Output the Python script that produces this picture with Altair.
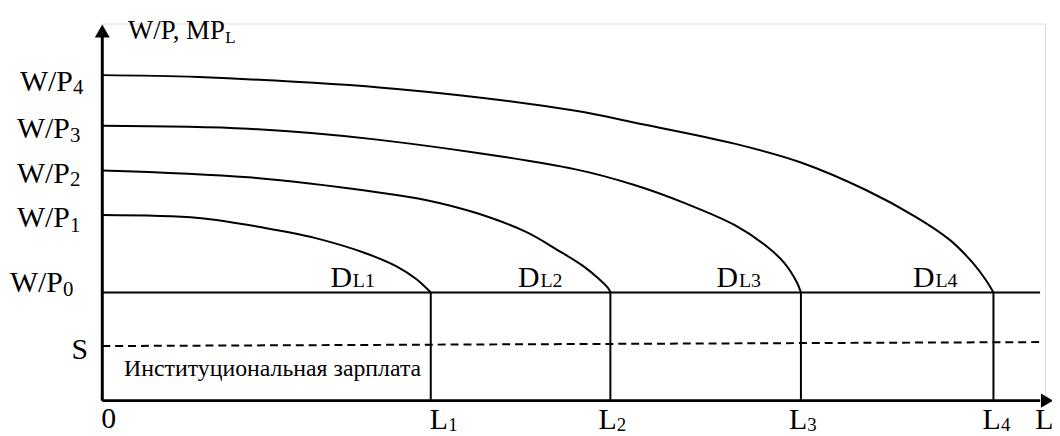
import altair as alt
import pandas as pd

# ---- data ----
L_pos = [3.31, 5.12, 7.04, 8.98]          # L1..L4 on the labour axis
WP0 = 10.9                                 # W/P0 level
WP_levels = [10.9, 18.7, 23.2, 27.7, 32.8] # W/P0..W/P4
S_line_x = [0.0, 9.45]
S_line_y = [5.5, 5.9]
WP0_end = 9.45

curve1_x = [0, 0.97, 1.64, 2.14, 2.64, 2.97, 3.17, 3.27, 3.31]
curve1_y = [18.7, 18.4, 17.4, 16.4, 14.9, 13.5, 12.2, 11.3, 10.9]
curve2_x = [0, 1.47, 2.77, 3.27, 3.77, 4.27, 4.60, 4.84, 5.00, 5.10, 5.12]
curve2_y = [23.2, 22.5, 21.0, 20.2, 18.9, 17.0, 15.1, 13.6, 12.3, 11.3, 10.9]
curve3_x = [0, 1.47, 2.77, 4.77, 5.37, 5.87, 6.37, 6.70, 6.87, 7.00, 7.04]
curve3_y = [27.7, 27.4, 26.3, 23.3, 21.7, 19.9, 17.7, 15.5, 13.9, 11.9, 10.9]
curve4_x = [0, 0.97, 2.97, 4.77, 5.37, 6.37, 7.04, 7.70, 8.20, 8.54, 8.77, 8.90, 8.98]
curve4_y = [32.8, 32.6, 31.4, 29.2, 28.0, 25.9, 24.0, 21.2, 18.5, 16.2, 13.9, 12.2, 10.9]

wp_label_x = [-0.93, -0.86, -0.86, -0.86, -0.83]
wp_label_y = [10.9, 17.5, 21.9, 26.5, 31.2]
wp_sub_y = [10.5, 17.0, 21.6, 26.1, 30.9]
wp_subs = ["0", "1", "2", "3", "4"]

d_label_x = [2.30, 4.19, 6.19, 8.17]
d_label_y = 11.5
d_subs = ["L1", "L2", "L3", "L4"]

l_label_x = [3.30, 5.00, 6.92, 8.87]
l_subs = ["1", "2", "3", "4"]

FONT = "Liberation Serif"
XS = alt.Scale(domain=[0, 9.5], nice=False, zero=False)
YS = alt.Scale(domain=[0, 38], nice=False, zero=False)


def X(f="x"):
    return alt.X(f"{f}:Q", scale=XS, axis=None)


def Y(f="y"):
    return alt.Y(f"{f}:Q", scale=YS, axis=None)


# curves
rows = []
for i, (cx, cy) in enumerate([(curve1_x, curve1_y), (curve2_x, curve2_y),
                              (curve3_x, curve3_y), (curve4_x, curve4_y)]):
    for k, (a, b) in enumerate(zip(cx, cy)):
        rows.append({"curve": f"D{i+1}", "x": a, "y": b, "o": k})
curves_df = pd.DataFrame(rows)

curves = alt.Chart(curves_df).mark_line(
    color="black", strokeWidth=2, interpolate="catmull-rom"
).encode(x=X(), y=Y(), detail="curve:N", order="o:Q")

# W/P0 horizontal line
wp0 = alt.Chart(pd.DataFrame({"x": [0], "x2": [WP0_end], "y": [WP0]})).mark_rule(
    color="black", strokeWidth=2
).encode(x=X(), x2="x2:Q", y=Y())

# S dashed line
s_line = alt.Chart(pd.DataFrame({"x": S_line_x, "y": S_line_y})).mark_line(
    color="black", strokeWidth=2, strokeDash=[8, 5]
).encode(x=X(), y=Y())

# vertical lines at L_i
vlines = alt.Chart(pd.DataFrame({"x": L_pos, "y": [0] * 4, "y2": [WP0] * 4})).mark_rule(
    color="black", strokeWidth=2
).encode(x=X(), y=Y(), y2="y2:Q")

# axes
y_axis = alt.Chart(pd.DataFrame({"x": [0], "y": [0], "y2": [37.0]})).mark_rule(
    color="black", strokeWidth=3
).encode(x=X(), y=Y(), y2="y2:Q")
x_axis = alt.Chart(pd.DataFrame({"x": [0], "x2": [9.45], "y": [0]})).mark_rule(
    color="black", strokeWidth=3
).encode(x=X(), x2="x2:Q", y=Y())
arrow_up = alt.Chart(pd.DataFrame({"x": [0], "y": [37.25]})).mark_point(
    shape="M-1,0.87L1,0.87L0,-0.87Z", filled=True, color="black", size=225, opacity=1
).encode(x=X(), y=Y())
arrow_right = alt.Chart(pd.DataFrame({"x": [9.52], "y": [0]})).mark_point(
    shape="M-0.87,-1L0.87,0L-0.87,1Z", filled=True, color="black", size=200, opacity=1
).encode(x=X(), y=Y())

# text labels
lab = []
lab.append({"x": 0.26, "y": 36.4, "t": "W/P, MP", "fs": 27})
lab.append({"x": 1.24, "y": 36.0, "t": "L", "fs": 17})
for bx, by, sy, s in zip(wp_label_x, wp_label_y, wp_sub_y, wp_subs):
    lab.append({"x": bx, "y": by, "t": "W/P", "fs": 30})
    lab.append({"x": bx + 0.535, "y": sy, "t": s, "fs": 21})
lab.append({"x": -0.31, "y": 4.2, "t": "S", "fs": 30})
lab.append({"x": -0.01, "y": -2.8, "t": "0", "fs": 30})
for lx, s in zip(l_label_x, l_subs):
    lab.append({"x": lx, "y": -2.85, "t": "L", "fs": 30})
    lab.append({"x": lx + 0.185, "y": -3.05, "t": s, "fs": 19})
lab.append({"x": 9.40, "y": -2.85, "t": "L", "fs": 30})
for dx_, s in zip(d_label_x, d_subs):
    lab.append({"x": dx_, "y": d_label_y, "t": "D", "fs": 30})
    lab.append({"x": dx_ + 0.225, "y": d_label_y, "t": s, "fs": 20})
lab.append({"x": 0.22, "y": 2.5, "t": "Институциональная зарплата", "fs": 24})
labels_df = pd.DataFrame(lab)

labels = alt.Chart(labels_df).mark_text(
    font=FONT, color="black", align="left", baseline="alphabetic"
).encode(x=X(), y=Y(), text="t:N", size=alt.Size("fs:Q", scale=None, legend=None))

chart = alt.layer(
    curves, wp0, s_line, vlines, y_axis, x_axis, arrow_up, arrow_right, labels
).properties(
    width=950, height=380,
    autosize=alt.AutoSizeParams(type="none"),
    padding={"left": 95, "top": 14, "right": 7, "bottom": 34},
).configure_view(stroke=None).configure(background="white")

chart.save("out.html", embed_options={"renderer": "svg", "actions": False})
